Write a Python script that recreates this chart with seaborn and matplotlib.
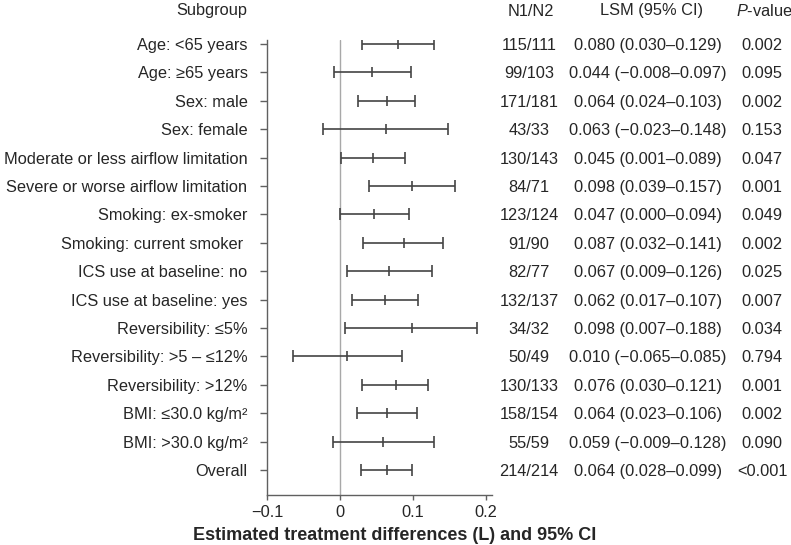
import numpy as np
import matplotlib
matplotlib.use("Agg")
import matplotlib.pyplot as plt
import matplotlib.transforms as mtransforms
import seaborn as sns

# data
subgroups = [
    "Age: <65 years", "Age: \u226565 years", "Sex: male", "Sex: female",
    "Moderate or less airflow limitation", "Severe or worse airflow limitation",
    "Smoking: ex-smoker", "Smoking: current smoker ",
    "ICS use at baseline: no", "ICS use at baseline: yes",
    "Reversibility: \u22645%", "Reversibility: >5 \u2013 \u226412%", "Reversibility: >12%",
    "BMI: \u226430.0 kg/m\u00b2", "BMI: >30.0 kg/m\u00b2", "Overall",
]
n1n2 = ["115/111", "99/103", "171/181", "43/33", "130/143", "84/71", "123/124", "91/90",
        "82/77", "132/137", "34/32", "50/49", "130/133", "158/154", "55/59", "214/214"]
lsm = [0.080, 0.044, 0.064, 0.063, 0.045, 0.098, 0.047, 0.087,
       0.067, 0.062, 0.098, 0.010, 0.076, 0.064, 0.059, 0.064]
ci_low = [0.030, -0.008, 0.024, -0.023, 0.001, 0.039, 0.000, 0.032,
          0.009, 0.017, 0.007, -0.065, 0.030, 0.023, -0.009, 0.028]
ci_high = [0.129, 0.097, 0.103, 0.148, 0.089, 0.157, 0.094, 0.141,
           0.126, 0.107, 0.188, 0.085, 0.121, 0.106, 0.128, 0.099]
p_values = ["0.002", "0.095", "0.002", "0.153", "0.047", "0.001", "0.049", "0.002",
            "0.025", "0.007", "0.034", "0.794", "0.001", "0.002", "0.090", "<0.001"]
x_ticks = [-0.1, 0, 0.1, 0.2]
x_tick_labels = ["\u22120.1", "0", "0.1", "0.2"]

sns.set_style("ticks")
plt.rcParams["font.family"] = ["Liberation Sans", "DejaVu Sans"]
plt.rcParams["mathtext.fontset"] = "custom"
plt.rcParams["mathtext.it"] = "Liberation Sans:italic"
plt.rcParams["mathtext.rm"] = "Liberation Sans"

txt_col = "#262626"
line_col = "#444444"
fs = 11.8


def fmt(v):
    return f"{v:.3f}".replace("-", "\u2212")


rows = np.arange(len(subgroups))
lsm_arr = np.array(lsm)
xerr = [lsm_arr - np.array(ci_low), np.array(ci_high) - lsm_arr]

fig = plt.figure(figsize=(7.91, 5.45), dpi=100)
ax = fig.add_axes([267 / 791, 50 / 545, 225 / 791, 455 / 545])

# reference line at zero
ax.axvline(0, color="#a8a8a8", lw=1.0, zorder=1)
# confidence intervals + point estimates
ax.errorbar(lsm_arr, rows, xerr=xerr, fmt="none", ecolor=line_col,
            elinewidth=1.2, capsize=4, capthick=1.2, zorder=2)
sns.scatterplot(x=lsm, y=rows, marker="|", s=60, color=line_col,
                linewidth=1.2, ax=ax, zorder=3)

ax.set_xlim(-0.1, 0.208)
ax.set_ylim(15.88, -0.14)
ax.set_xticks(x_ticks)
ax.set_xticklabels(x_tick_labels, fontsize=fs, color=txt_col)
ax.set_yticks(rows)
ax.set_yticklabels(subgroups, fontsize=fs, color=txt_col)
ax.tick_params(axis="y", length=5, width=1, color="#606060", pad=9)
ax.tick_params(axis="x", length=3.6, width=1, color="#606060", pad=3.4)
for side in ["top", "right"]:
    ax.spines[side].set_visible(False)
for side in ["left", "bottom"]:
    ax.spines[side].set_color("#606060")
    ax.spines[side].set_linewidth(1.0)
ax.set_xlabel("")
ax.set_ylabel("")

# text columns
trans = mtransforms.blended_transform_factory(fig.transFigure, ax.transData)
for i in rows:
    ax.text(529 / 791, i, n1n2[i], transform=trans, ha="center", va="center_baseline",
            fontsize=fs, color=txt_col)
    ax.text(648 / 791, i, f"{fmt(lsm[i])} ({fmt(ci_low[i])}\u2013{fmt(ci_high[i])})",
            transform=trans, ha="center", va="center_baseline", fontsize=fs, color=txt_col)
    ax.text(762 / 791, i, p_values[i], transform=trans, ha="center", va="center_baseline",
            fontsize=fs, color=txt_col)

# headers
hy = 1 - 15.5 / 545
fig.text(247 / 791, hy, "Subgroup", ha="right", va="baseline", fontsize=fs, color=txt_col)
fig.text(531 / 791, hy, "N1/N2", ha="center", va="baseline", fontsize=fs, color=txt_col)
fig.text(652 / 791, hy, "LSM (95% CI)", ha="center", va="baseline", fontsize=fs, color=txt_col)
fig.text(764 / 791, hy, "$P$-value", ha="center", va="baseline", fontsize=fs, color=txt_col)

fig.text(395 / 791, 10 / 545, "Estimated treatment differences (L) and 95% CI",
         ha="center", va="center", fontsize=13, fontweight="bold", color=txt_col)

fig.savefig("out.png", dpi=100)
